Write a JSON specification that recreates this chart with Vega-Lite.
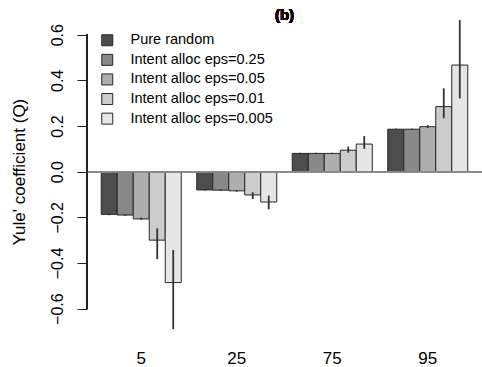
{
  "$schema": "https://vega.github.io/schema/vega-lite/v6.json",
  "autosize": {"type": "none"},
  "width": 395,
  "height": 316,
  "padding": {"left": 87, "top": 20, "right": 0, "bottom": 31},
  "background": "white",
  "config": {
    "view": {"stroke": null},
    "font": "Liberation Sans"
  },
  "data": {
    "values": [
      {"group": "5", "series": "Pure random", "value": -0.187, "lo": -0.191, "hi": -0.183},
      {"group": "5", "series": "Intent alloc eps=0.25", "value": -0.19, "lo": -0.194, "hi": -0.186},
      {"group": "5", "series": "Intent alloc eps=0.05", "value": -0.207, "lo": -0.212, "hi": -0.202},
      {"group": "5", "series": "Intent alloc eps=0.01", "value": -0.3, "lo": -0.383, "hi": -0.248},
      {"group": "5", "series": "Intent alloc eps=0.005", "value": -0.486, "lo": -0.69, "hi": -0.343},
      {"group": "25", "series": "Pure random", "value": -0.08, "lo": -0.083, "hi": -0.077},
      {"group": "25", "series": "Intent alloc eps=0.25", "value": -0.081, "lo": -0.084, "hi": -0.078},
      {"group": "25", "series": "Intent alloc eps=0.05", "value": -0.084, "lo": -0.088, "hi": -0.08},
      {"group": "25", "series": "Intent alloc eps=0.01", "value": -0.102, "lo": -0.12, "hi": -0.09},
      {"group": "25", "series": "Intent alloc eps=0.005", "value": -0.133, "lo": -0.165, "hi": -0.105},
      {"group": "75", "series": "Pure random", "value": 0.08, "lo": 0.077, "hi": 0.083},
      {"group": "75", "series": "Intent alloc eps=0.25", "value": 0.08, "lo": 0.077, "hi": 0.083},
      {"group": "75", "series": "Intent alloc eps=0.05", "value": 0.08, "lo": 0.077, "hi": 0.083},
      {"group": "75", "series": "Intent alloc eps=0.01", "value": 0.094, "lo": 0.083, "hi": 0.11},
      {"group": "75", "series": "Intent alloc eps=0.005", "value": 0.121, "lo": 0.1, "hi": 0.156},
      {"group": "95", "series": "Pure random", "value": 0.186, "lo": 0.183, "hi": 0.189},
      {"group": "95", "series": "Intent alloc eps=0.25", "value": 0.186, "lo": 0.183, "hi": 0.189},
      {"group": "95", "series": "Intent alloc eps=0.05", "value": 0.197, "lo": 0.191, "hi": 0.204},
      {"group": "95", "series": "Intent alloc eps=0.01", "value": 0.285, "lo": 0.234, "hi": 0.365},
      {"group": "95", "series": "Intent alloc eps=0.005", "value": 0.467, "lo": 0.321, "hi": 0.664}
    ]
  },
  "layer": [
    {
      "layer": [
        {
          "mark": {"type": "bar", "stroke": "#262626", "strokeWidth": 1},
          "encoding": {
            "x": {"field": "group", "type": "nominal", "sort": ["5", "25", "75", "95"],
                  "scale": {"paddingInner": 0.1623, "paddingOuter": 0.149},
                  "axis": {"title": null, "domain": false, "ticks": false, "labelAngle": 0, "labelFont": "Liberation Sans", "labelFontSize": 17, "labelColor": "black", "labelPadding": 14, "labelBaseline": "top"}},
            "xOffset": {"field": "series", "type": "nominal", "sort": ["Pure random", "Intent alloc eps=0.25", "Intent alloc eps=0.05", "Intent alloc eps=0.01", "Intent alloc eps=0.005"], "scale": {"paddingInner": 0, "paddingOuter": 0}},
            "y": {"field": "value", "type": "quantitative",
                  "scale": {"domain": [-0.72, 0.6645], "nice": false, "zero": false},
                  "axis": {"title": "Yule' coefficient (Q)", "values": [-0.6, -0.4, -0.2, 0, 0.2, 0.4, 0.6], "format": ".1f", "domain": false, "grid": false, "tickSize": 10, "tickColor": "#222222", "labelAngle": -90, "labelFont": "Liberation Sans", "labelFontSize": 16, "labelColor": "black", "labelPadding": 12, "titleFont": "Liberation Sans", "titleFontSize": 17, "titleFontWeight": "normal", "titleColor": "black", "titleX": -68, "titleY": 151.5, "titleBaseline": "middle", "titleAngle": -90}},
            "fill": {"field": "series", "type": "nominal", "sort": ["Pure random", "Intent alloc eps=0.25", "Intent alloc eps=0.05", "Intent alloc eps=0.01", "Intent alloc eps=0.005"],
                     "scale": {"range": ["#4D4D4D", "#888888", "#AEAEAE", "#CCCCCC", "#E6E6E6"]},
                     "legend": {"title": null, "orient": "none", "legendX": 13, "legendY": 13, "padding": 0, "symbolType": "square", "symbolSize": 121, "symbolStrokeColor": "#262626", "symbolStrokeWidth": 1, "symbolOpacity": 1, "labelFont": "Liberation Sans", "labelFontSize": 14.5, "labelColor": "black", "labelOffset": 16, "rowPadding": 3.6}}
          }
        },
        {
          "mark": {"type": "rule", "color": "#333333", "strokeWidth": 1.8},
          "encoding": {
            "x": {"field": "group", "type": "nominal", "sort": ["5", "25", "75", "95"]},
            "xOffset": {"field": "series", "type": "nominal", "sort": ["Pure random", "Intent alloc eps=0.25", "Intent alloc eps=0.05", "Intent alloc eps=0.01", "Intent alloc eps=0.005"]},
            "y": {"field": "lo", "type": "quantitative"},
            "y2": {"field": "hi"}
          }
        }
      ]
    },
    {
      "mark": {"type": "rule", "color": "#8a8a8a", "strokeWidth": 1},
      "encoding": {"y": {"datum": 0, "type": "quantitative"}}
    },
    {
      "mark": {"type": "rule", "color": "#222222", "strokeWidth": 1},
      "encoding": {
        "x": {"datum": 0, "type": "quantitative", "scale": {"domain": [0, 1], "nice": false, "zero": false}, "axis": null},
        "y": {"datum": -0.6, "type": "quantitative"},
        "y2": {"datum": 0.6}
      }
    },
    {
      "mark": {"type": "text", "font": "Liberation Sans", "fontSize": 15, "fontWeight": "bold", "fill": "#000000", "opacity": 1, "align": "center", "baseline": "middle"},
      "encoding": {
        "x": {"datum": 0.5, "type": "quantitative", "scale": {"domain": [0, 1], "nice": false, "zero": false}, "axis": null},
        "y": {"datum": 0.686, "type": "quantitative"},
        "text": {"value": "(b)"}
      }
    }
  ],
  "resolve": {"scale": {"x": "independent"}}
}
